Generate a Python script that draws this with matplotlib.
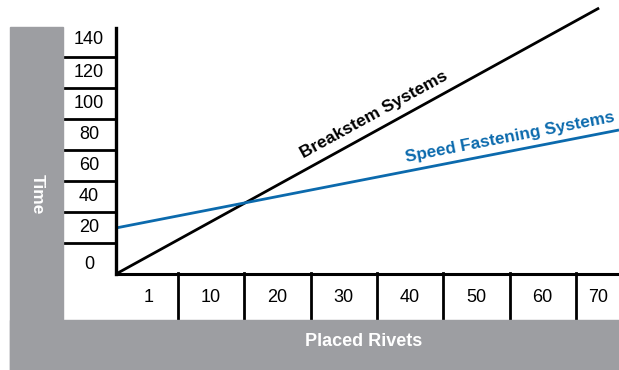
import matplotlib.pyplot as plt
import matplotlib.transforms as mtransforms
from matplotlib.patches import Rectangle

# tick labels
x_labels = ['1', '10', '20', '30', '40', '50', '60', '70']
y_labels = ['0', '20', '40', '60', '80', '100', '120', '140']

# the two lines (x in label cells, y in time units)
breakstem_x = [0.065, 7.35]
breakstem_y = [0, 171.6]
speed_x = [0.065, 7.65]
speed_y = [29.7, 92.9]

grey = '#9d9ea2'
blue = '#0b6aad'
font = ['Liberation Sans', 'DejaVu Sans']
W, H = 619, 370

fig = plt.figure(figsize=(W / 100, H / 100), dpi=100)

# grey frame (left band and bottom band)
fig.patches.append(Rectangle((10 / W, 0), 53 / W, (H - 27) / H,
                             transform=fig.transFigure, color=grey, zorder=0))
fig.patches.append(Rectangle((10 / W, 0), (W - 10) / W, 50 / H,
                             transform=fig.transFigure, color=grey, zorder=0))

ax = fig.add_axes([116 / W, (H - 274) / H, (W - 116) / W, 274 / H])
ax.set_xlim(0.065, 7.65)
ax.set_ylim(0, 274 * 20 / 31)
ax.axis('off')

ax.plot(breakstem_x, breakstem_y, color='black', lw=2.0, solid_capstyle='butt')
ax.plot(speed_x, speed_y, color=blue, lw=2.0, solid_capstyle='butt')

# axes lines
ax.plot([0.065, 0.065], [0, 158.7], color='black', lw=2.4, clip_on=False)
ax.plot([0.065, 7.65], [0, 0], color='black', lw=2.2, clip_on=False)

# y label column
ty = mtransforms.blended_transform_factory(fig.transFigure, ax.transData)
for k in range(1, 8):
    ax.plot([64 / W, 116 / W], [20 * k, 20 * k], color='black', lw=2.0,
            transform=ty, clip_on=False)
y_pos = [6, 30, 50, 70, 90, 110, 130, 151]
for lab, yp in zip(y_labels, y_pos):
    ax.text(89 / W, yp, lab, transform=ty, ha='center', va='center',
            fontsize=13, family=font)

# x label row
tx = mtransforms.blended_transform_factory(ax.transData, fig.transFigure)
for k in range(1, 8):
    ax.plot([k, k], [(H - 273) / H, 50 / H], color='black', lw=2.0,
            transform=tx, clip_on=False)
x_pos = [0.56, 1.5, 2.5, 3.5, 4.5, 5.5, 6.5, 7.33]
for lab, xp in zip(x_labels, x_pos):
    ax.text(xp, (H - 297) / H, lab, transform=tx, ha='center', va='center',
            fontsize=13, family=font)

# axis titles
fig.text(37 / W, (H - 194) / H, 'Time', rotation=270, ha='center', va='center',
         color='white', fontsize=12.5, fontweight='bold', family=font)
fig.text(364 / W, (H - 342) / H, 'Placed Rivets', ha='center', va='center',
         color='white', fontsize=13, fontweight='bold', family=font)

# line labels
ax.text(374 / W, (H - 115) / H, 'Breakstem Systems', transform=fig.transFigure,
        rotation=28.7, ha='center', va='center', fontsize=12.5,
        fontweight='bold', family=font, color='black')
ax.text(510 / W, (H - 137) / H, 'Speed Fastening Systems', transform=fig.transFigure,
        rotation=11, ha='center', va='center', fontsize=12.3,
        fontweight='bold', family=font, color=blue)

fig.savefig('out.png', dpi=100)
